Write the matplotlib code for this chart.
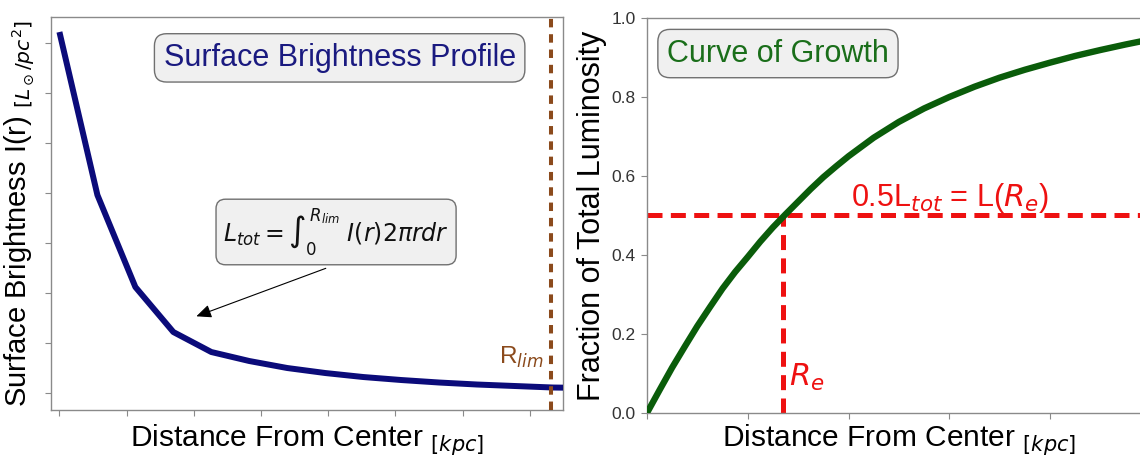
import matplotlib
matplotlib.use("Agg")
import matplotlib.pyplot as plt

plt.rcParams["font.family"] = ["Liberation Sans", "DejaVu Sans"]
plt.rcParams["mathtext.fontset"] = "dejavusans"

# surface brightness profile (arbitrary units)
sb_r = [0.0, 0.565, 1.13, 1.695, 2.26, 2.825, 3.39, 3.955, 4.52, 5.085,
        5.65, 6.215, 6.78, 7.345, 7.91]
sb_i = [7.22, 3.96, 2.12, 1.22, 0.82, 0.64, 0.50, 0.40, 0.32, 0.26,
        0.21, 0.17, 0.14, 0.11, 0.10]
r_lim = 7.31

# curve of growth
cog_r = [0.0, 0.125, 0.25, 0.375, 0.5, 0.625, 0.75, 0.875, 1.0, 1.125,
         1.25, 1.375, 1.5, 1.625, 1.75, 1.875, 2.0, 2.25, 2.5, 2.75,
         3.0, 3.25, 3.5, 3.75, 4.0, 4.25, 4.5, 4.75, 5.0]
cog_f = [0.0, 0.058, 0.115, 0.168, 0.22, 0.268, 0.315, 0.357, 0.395, 0.434,
         0.47, 0.503, 0.535, 0.567, 0.597, 0.624, 0.65, 0.697,
         0.737, 0.771, 0.800, 0.826, 0.849, 0.869, 0.887, 0.904, 0.919,
         0.933, 0.946]
r_e = 1.35
half = 0.5

spine_col = "#8a8a8a"
box = dict(boxstyle="round,pad=0.3,rounding_size=0.4", fc="#f0f0f0",
           ec="#707070", lw=1.0)

fig = plt.figure(figsize=(11.4, 4.57), dpi=100)
ax1 = fig.add_axes([0.0447, 0.1028, 0.449, 0.860])
ax2 = fig.add_axes([0.5675, 0.0963, 0.442, 0.8643])

# ---- left panel
ax1.plot(sb_r, sb_i, color="#0b0b7a", lw=4.3, solid_capstyle="butt", zorder=3)
ax1.axvline(r_lim, color="#8b4a1c", lw=2.9, ls=(0, (2.1, 1.7)), zorder=4)
ax1.set_xlim(-0.126, 7.49)
ax1.set_ylim(-0.34, 7.52)
ax1.set_xticks(range(8))
ax1.set_yticks(range(8))
ax1.set_xticklabels([])
ax1.set_yticklabels([])
ax1.set_xlabel(r"Distance From Center $_{[kpc]}$", fontsize=21.5, labelpad=1)
ax1.set_ylabel(r"Surface Brightness I(r) $_{[L_\odot/pc^2]}$", fontsize=21,
               labelpad=2)
ax1.text(0.564, 0.896, "Surface Brightness Profile", transform=ax1.transAxes,
         ha="center", va="center", fontsize=22, color="#1a1a80", bbox=box)
ax1.text(0.557, 0.453, r"$L_{tot} = \int_0^{R_{lim}}\ I(r)2\pi rdr$",
         transform=ax1.transAxes, ha="center", va="center", fontsize=17,
         color="#111111", bbox=dict(box, pad=0.45))
ax1.annotate("", xy=(0.279, 0.236), xytext=(0.542, 0.363),
             xycoords="axes fraction",
             arrowprops=dict(arrowstyle="-|>,head_length=0.9,head_width=0.4",
                             color="black", lw=0.8))
ax1.text(r_lim - 0.1, 0.72, r"R$_{lim}$", ha="right", va="center",
         fontsize=17.5, color="#8b4a1c")

# ---- right panel
ax2.plot(cog_r, cog_f, color="#0a5c0a", lw=4.6, zorder=3)
ax2.axhline(half, color="#ee1111", lw=3.6, ls=(0, (3.0, 1.67)), zorder=2)
ax2.plot([r_e, r_e], [0, half], color="#ee1111", lw=3.6,
         ls=(0, (3.0, 1.67)), zorder=2)
ax2.set_xlim(0, 5)
ax2.set_ylim(0, 1)
ax2.set_xticks(range(6))
ax2.set_xticklabels([])
ax2.set_yticks([0, 0.2, 0.4, 0.6, 0.8, 1.0])
ax2.set_yticklabels(["0.0", "0.2", "0.4", "0.6", "0.8", "1.0"])
ax2.set_xlabel(r"Distance From Center $_{[kpc]}$", fontsize=21.5, labelpad=-1.5)
ax2.set_ylabel("Fraction of Total Luminosity", fontsize=22, labelpad=3)
ax2.text(0.26, 0.91, "Curve of Growth", transform=ax2.transAxes,
         ha="center", va="center", fontsize=22, color="#1a6e1a", bbox=box)
ax2.text(3.01, 0.545, r"0.5L$_{tot}$ = L($R_e$)", ha="center", va="center",
         fontsize=22, color="#ee1111")
ax2.text(r_e + 0.06, 0.09, r"$R_e$", ha="left", va="center", fontsize=22,
         color="#ee1111")

for ax in (ax1, ax2):
    for s in ax.spines.values():
        s.set_color(spine_col)
        s.set_linewidth(1.0)
    ax.tick_params(colors=spine_col, labelcolor="#333333", length=4,
                   width=0.8, labelsize=12.5, pad=4)

fig.savefig("out.png", dpi=100)
